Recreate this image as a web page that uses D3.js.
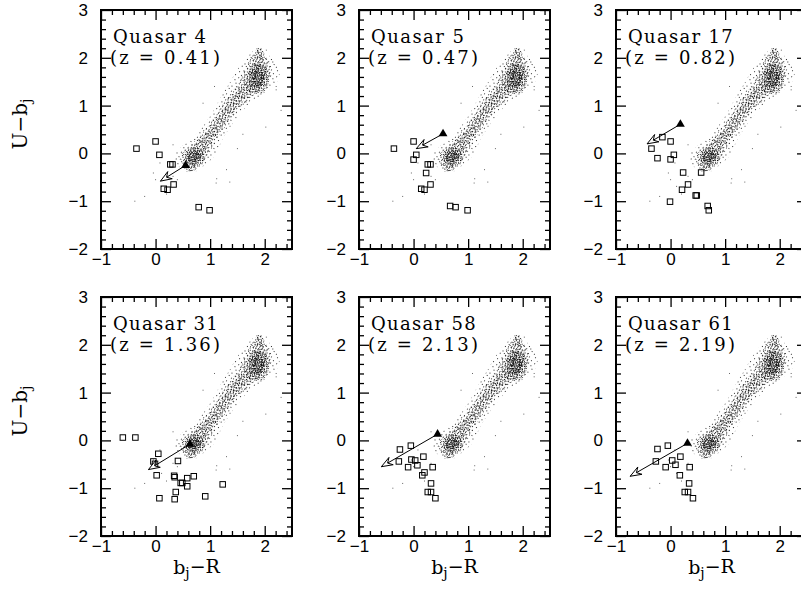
<!doctype html>
<html lang="en">
<head>
<meta charset="utf-8">
<title>Quasar fields: U-bj vs bj-R</title>
<script src="https://d3js.org/d3.v7.min.js" charset="utf-8"></script>
<style>
body { margin: 0; background: #fff; }
svg { display: block; font-family: "DejaVu Serif", "Liberation Serif", serif; }
.tick text { font-size: 17px; fill: #000; }
.tick line { stroke: #000; stroke-width: 1.3; }
</style>
</head>
<body>
<div id="vis"></div>
<script>

// panel labels
var quasarNames = ["Quasar 4", "Quasar 5", "Quasar 17", "Quasar 31", "Quasar 58", "Quasar 61"];
var quasarZ = ["0.41", "0.47", "0.82", "1.36", "2.13", "2.19"];

// quasar position (triangle) and arrow tip
var qsoX = [0.55, 0.54, 0.18, 0.63, 0.44, 0.31];
var qsoY = [-0.25, 0.41, 0.61, -0.08, 0.13, -0.06];
var arrowX = [0.09, 0.05, -0.43, -0.13, -0.59, -0.74];
var arrowY = [-0.58, 0.10, 0.20, -0.61, -0.55, -0.75];

// galaxies near each quasar (open squares)
var galX = [
  [-0.35, 0.0, 0.07, 0.27, 0.31, 0.15, 0.22, 0.33, 0.79, 0.99],
  [-0.36, 0.0, 0.05, 0.0, 0.26, 0.31, 0.23, 0.14, 0.20, 0.31, 0.67, 0.77, 0.99],
  [-0.15, -0.35, 0.0, -0.24, 0.06, 0.0, 0.23, 0.56, 0.32, 0.21, 0.46, 0.48, -0.01, 0.68, 0.70],
  [-0.60, -0.37, 0.05, -0.04, -0.01, 0.41, 0.02, 0.34, 0.35, 0.46, 0.49, 0.58, 0.70, 0.58, 0.37, 0.07, 0.35, 0.91, 1.23],
  [-0.25, -0.05, -0.27, -0.04, 0.03, -0.10, 0.07, 0.18, 0.35, 0.20, 0.16, 0.32, 0.26, 0.32, 0.40],
  [-0.24, -0.05, -0.27, 0.03, 0.09, -0.09, 0.18, 0.35, 0.17, 0.34, 0.26, 0.32, 0.41]
];
var galY = [
  [0.10, 0.25, -0.03, -0.23, -0.23, -0.74, -0.76, -0.65, -1.125, -1.19],
  [0.10, 0.25, -0.03, -0.13, -0.23, -0.23, -0.41, -0.74, -0.76, -0.65, -1.10, -1.125, -1.19],
  [0.34, 0.10, 0.25, -0.10, -0.03, -0.125, -0.40, -0.40, -0.65, -0.76, -0.88, -0.88, -1.01, -1.10, -1.19],
  [0.06, 0.06, -0.28, -0.44, -0.49, -0.43, -0.73, -0.74, -0.77, -0.89, -0.89, -0.79, -0.75, -0.96, -1.08, -1.21, -1.23, -1.17, -0.92],
  [-0.19, -0.11, -0.44, -0.40, -0.42, -0.56, -0.52, -0.34, -0.56, -0.67, -0.73, -0.90, -1.08, -1.08, -1.21],
  [-0.18, -0.11, -0.44, -0.42, -0.51, -0.56, -0.34, -0.56, -0.73, -0.90, -1.08, -1.08, -1.21]
];

// stellar locus: centre line and half width (in bj-R) along U-bj
var locusY = [-0.38, -0.2, 0.0, 0.25, 0.5, 0.75, 1.0, 1.25, 1.5, 1.75, 2.0, 2.2];
var locusX = [0.64, 0.66, 0.74, 0.90, 1.08, 1.24, 1.40, 1.60, 1.80, 1.88, 1.89, 1.90];
var locusW = [0.06, 0.18, 0.24, 0.19, 0.16, 0.16, 0.18, 0.23, 0.27, 0.24, 0.14, 0.04];

// the two dense clumps of the locus
var coreX = [0.72, 1.88];
var coreY = [-0.07, 1.56];
var coreRX = [0.19, 0.2];
var coreRY = [0.19, 0.32];

// isolated stars away from the locus
var fieldX = [-0.38, -0.2, -0.04, 0.08, 0.11, 0.32, 0.32, 0.49, 1.12, 1.11, 1.30, 1.36, 2.02, 2.03, 2.21, 2.21, 2.09, 1.08, 0.87, 0.2, 0.0, 1.5, 2.3, 0.4, 1.6];
var fieldY = [-1.0, -0.9, -0.41, -0.2, -0.69, -0.48, 0.18, 0.0, -0.53, -0.62, -0.34, -0.6, 0.55, 2.16, 1.4, 1.33, 1.81, 1.4, 1.05, -0.85, -0.55, 0.1, 0.9, -0.55, 0.4];

// layout
var panelLeft = [101, 359, 616],
    panelTop = [10, 297],
    pw = 191,
    ph = 239;

var svg = d3.select("#vis").append("svg")
    .attr("width", 801)
    .attr("height", 594);

svg.append("rect").attr("width", 801).attr("height", 594).attr("fill", "#fff");

var defs = svg.append("defs");

// stipple textures used to shade the locus
var textures = [
  { id: "dotsA", w: 12, h: 12, rot: 17, fill: "#333",
    dots: [[1, 1], [7, 0], [10, 4], [4, 3], [0, 7], [6, 6], [9, 9], [3, 10], [11, 11]] },
  { id: "dotsB", w: 13, h: 11, rot: -31, fill: "#222",
    dots: [[0, 0], [5, 0], [9, 1], [2, 2], [7, 3], [11, 3], [4, 4], [0, 5], [9, 5], [6, 6],
           [12, 6], [2, 7], [8, 8], [4, 8], [11, 9], [0, 9], [6, 10], [10, 10], [3, 10], [7, 1]] },
  { id: "dotsC", w: 9, h: 10, rot: 53, fill: "#1a1a1a",
    dots: [[1, 0], [5, 0], [8, 1], [3, 2], [6, 3], [0, 3], [2, 4], [7, 5], [4, 5], [1, 6],
           [8, 7], [5, 7], [3, 8], [0, 9], [6, 9], [2, 9]] },
  { id: "dotsD", w: 7, h: 8, rot: -68, fill: "#111",
    dots: [[0, 0], [3, 0], [5, 1], [1, 2], [4, 3], [6, 3], [2, 4], [0, 5], [5, 5], [3, 6], [1, 7], [6, 7], [4, 7]] },
  { id: "dotsE", w: 6, h: 5, rot: 8, fill: "#111",
    dots: [[0, 0], [3, 0], [5, 1], [1, 2], [4, 2], [2, 3], [5, 4], [0, 4]] }
];
textures.forEach(function(t) {
  var p = defs.append("pattern")
      .attr("id", t.id)
      .attr("patternUnits", "userSpaceOnUse")
      .attr("width", t.w)
      .attr("height", t.h)
      .attr("patternTransform", "rotate(" + t.rot + ")");
  p.selectAll("rect").data(t.dots).enter().append("rect")
      .attr("x", function(d) { return d[0]; })
      .attr("y", function(d) { return d[1]; })
      .attr("width", 1)
      .attr("height", 1)
      .attr("fill", t.fill);
});

defs.append("clipPath").attr("id", "frameClip")
  .append("rect").attr("width", pw).attr("height", ph);

var x = d3.scaleLinear().domain([-1, 2.5]).range([0, pw]);
var y = d3.scaleLinear().domain([-2, 3]).range([ph, 0]);

var xMajor = [-1, 0, 1, 2];
var yMajor = [-2, -1, 0, 1, 2, 3];
var xMinor = d3.range(-5, 13).filter(function(i) { return i % 5 !== 0; }).map(function(i) { return i / 5; });
var yMinor = d3.range(-10, 15).filter(function(i) { return i % 5 !== 0; }).map(function(i) { return i / 5; });

function band(k) {
  return d3.area()
    .curve(d3.curveCatmullRom)
    .y(function(d, i) { return y(locusY[i]); })
    .x0(function(d, i) { return x(locusX[i] - k * locusW[i]); })
    .x1(function(d, i) { return x(locusX[i] + k * locusW[i]); });
}

var bandLayers = [
  { k: 1.6, fill: "url(#dotsA)" },
  { k: 1.0, fill: "url(#dotsB)" },
  { k: 0.6, fill: "url(#dotsC)" }
];
var coreLayers = [
  { k: 1.0, fill: "url(#dotsD)" },
  { k: 0.6, fill: "url(#dotsE)" }
];

function noLabels() { return ""; }

quasarNames.forEach(function(name, p) {
  var col = p % 3, row = Math.floor(p / 3);
  var g = svg.append("g")
      .attr("transform", "translate(" + panelLeft[col] + "," + panelTop[row] + ")");

  // stellar locus
  var locus = g.append("g").attr("clip-path", "url(#frameClip)");
  bandLayers.forEach(function(b) {
    locus.append("path")
      .attr("d", band(b.k)(locusY))
      .attr("fill", b.fill);
  });
  coreLayers.forEach(function(c) {
    locus.append("g").selectAll("ellipse").data(coreX).enter().append("ellipse")
        .attr("cx", function(d) { return x(d); })
        .attr("cy", function(d, i) { return y(coreY[i]); })
        .attr("rx", function(d, i) { return c.k * (x(coreRX[i]) - x(0)); })
        .attr("ry", function(d, i) { return c.k * (y(0) - y(coreRY[i])); })
        .attr("fill", c.fill);
  });
  locus.selectAll(".field").data(fieldX).enter().append("rect")
      .attr("class", "field")
      .attr("x", function(d) { return x(d) - 0.5; })
      .attr("y", function(d, i) { return y(fieldY[i]) - 0.5; })
      .attr("width", 1)
      .attr("height", 1)
      .attr("fill", "#666");

  // axes: majors with labels on left/bottom, inward ticks on all four sides
  function axisSet(axisFn, scale, major, minor, tr, labelled, pad) {
    var a = g.append("g").attr("transform", tr)
      .call(axisFn(scale).tickValues(major).tickSize(-10).tickPadding(pad)
        .tickFormat(labelled ? d3.format("d") : noLabels));
    a.select(".domain").remove();
    var m = g.append("g").attr("transform", tr)
      .call(axisFn(scale).tickValues(minor).tickSize(-5).tickFormat(noLabels));
    m.select(".domain").remove();
  }
  axisSet(d3.axisBottom, x, xMajor, xMinor, "translate(0," + ph + ")", true, 4);
  axisSet(d3.axisTop, x, xMajor, xMinor, "translate(0,0)", false, 0);
  axisSet(d3.axisLeft, y, yMajor, yMinor, "translate(0,0)", true, 13);
  axisSet(d3.axisRight, y, yMajor, yMinor, "translate(" + pw + ",0)", false, 0);

  g.append("rect")
      .attr("width", pw)
      .attr("height", ph)
      .attr("fill", "none")
      .attr("stroke", "#000")
      .attr("stroke-width", 2);

  // galaxies
  g.selectAll(".gal").data(galX[p]).enter().append("rect")
      .attr("class", "gal")
      .attr("x", function(d) { return x(d) - 2.75; })
      .attr("y", function(d, i) { return y(galY[p][i]) - 2.75; })
      .attr("width", 5.5)
      .attr("height", 5.5)
      .attr("fill", "none")
      .attr("stroke", "#000")
      .attr("stroke-width", 1);

  // arrow from the quasar
  var qx = x(qsoX[p]), qy = y(qsoY[p]), tx = x(arrowX[p]), ty = y(arrowY[p]);
  g.append("line")
      .attr("x1", qx).attr("y1", qy)
      .attr("x2", tx).attr("y2", ty)
      .attr("stroke", "#000")
      .attr("stroke-width", 1);
  var ang = Math.atan2(ty - qy, tx - qx), L = 12, h = 0.36;
  var head = [
    [tx, ty],
    [tx - L * Math.cos(ang - h), ty - L * Math.sin(ang - h)],
    [tx - 0.6 * L * Math.cos(ang), ty - 0.6 * L * Math.sin(ang)],
    [tx - L * Math.cos(ang + h), ty - L * Math.sin(ang + h)]
  ];
  g.append("path")
      .attr("d", d3.line()(head) + "Z")
      .attr("fill", "#fff")
      .attr("stroke", "#000")
      .attr("stroke-width", 1);

  g.append("path")
      .attr("d", d3.symbol(d3.symbolTriangle, 34)())
      .attr("transform", "translate(" + qx + "," + qy + ")")
      .attr("fill", "#000");

  // labels
  g.append("text")
      .attr("x", 12)
      .attr("y", 33)
      .attr("textLength", 11.8 * name.length - 1.5)
      .attr("lengthAdjust", "spacing")
      .style("font-size", "18px")
      .text(name);
  g.append("text")
      .attr("x", 9)
      .attr("y", 54)
      .attr("textLength", 110)
      .attr("lengthAdjust", "spacing")
      .style("font-size", "18px")
      .text("(z = " + quasarZ[p] + ")");

  if (col === 0) {
    var yl = svg.append("text")
        .attr("transform", "translate(27," + (panelTop[row] + 114) + ") rotate(-90)")
        .attr("text-anchor", "middle")
        .style("font-size", "20px")
        .text("U\u2212b");
    yl.append("tspan").attr("dy", "0.3em").style("font-size", "14px").text("j");
  }
  if (row === 1) {
    var xl = g.append("text")
        .attr("x", pw / 2)
        .attr("y", ph + 38)
        .attr("text-anchor", "middle")
        .style("font-size", "19px")
        .text("b");
    xl.append("tspan").attr("dy", "0.3em").style("font-size", "14px").text("j");
    xl.append("tspan").attr("dy", "-0.3em").text("\u2212R");
  }
});

</script>
</body>
</html>
